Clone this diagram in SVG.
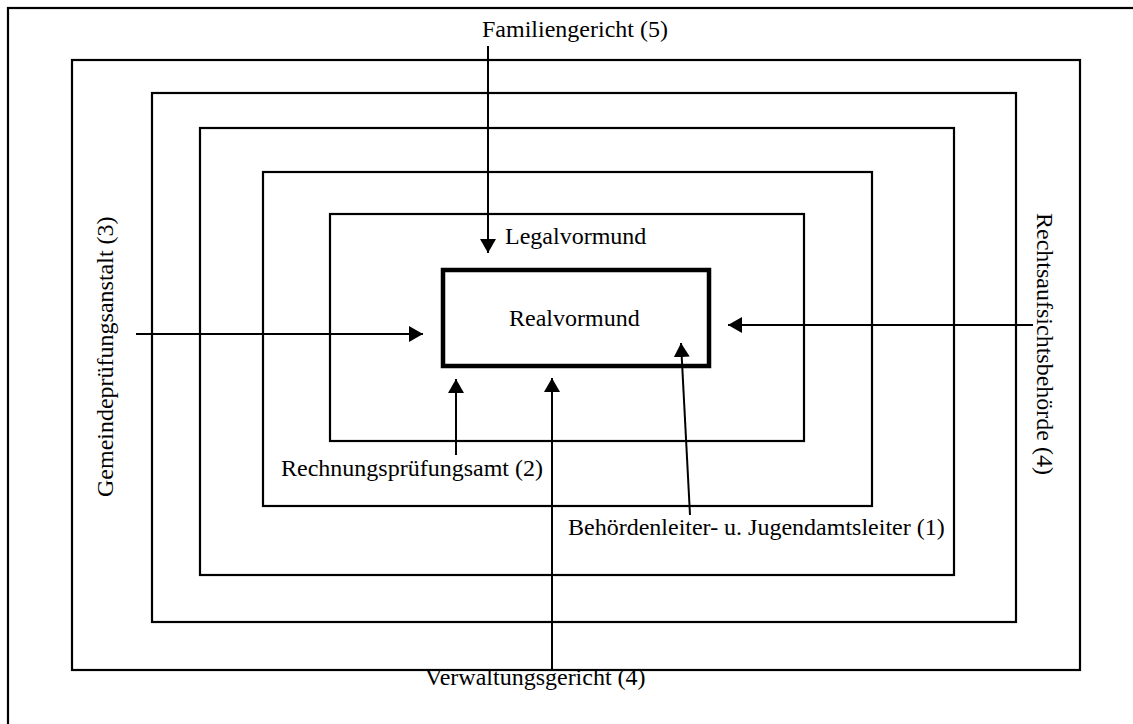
<svg xmlns="http://www.w3.org/2000/svg" width="1133" height="724" viewBox="0 0 1133 724">
<style>
.box{fill:none;stroke:#000;stroke-width:2.2}
.real{fill:none;stroke:#000;stroke-width:4.5}
.con{stroke:#000;stroke-width:2;fill:none}
text{font-family:"Liberation Serif","Times New Roman",serif;font-size:24px;fill:#000}
</style>
<defs>
<marker id="ah" markerUnits="userSpaceOnUse" markerWidth="15" markerHeight="16" refX="14" refY="8" orient="auto">
<path d="M0,0 L14,8 L0,16 z" fill="#000"/>
</marker>
</defs>
<rect width="1133" height="724" fill="#fff"/>
<g id="frame"><rect class="box" x="8" y="8" width="1200" height="800"/></g>
<g id="ring1"><rect class="box" x="72" y="60" width="1008" height="610"/></g>
<g id="ring2"><rect class="box" x="152" y="93" width="864" height="529"/></g>
<g id="ring3"><rect class="box" x="200" y="128" width="754" height="447"/></g>
<g id="ring4"><rect class="box" x="263" y="172" width="609" height="334"/></g>
<g id="legalvormund"><rect class="box" x="330" y="214" width="474" height="227"/><text x="505" y="244">Legalvormund</text></g>
<g id="realvormund"><rect class="real" x="443" y="270" width="266" height="96"/><text x="509" y="326">Realvormund</text></g>
<g id="familiengericht"><text x="482" y="37">Familiengericht (5)</text></g>
<g id="gemeindepruefungsanstalt"><text transform="translate(113,497) rotate(-90)">Gemeindeprüfungsanstalt (3)</text></g>
<g id="rechtsaufsichtsbehoerde"><text transform="translate(1037,213) rotate(90)">Rechtsaufsichtsbehörde (4)</text></g>
<g id="rechnungspruefungsamt"><text x="281" y="476">Rechnungsprüfungsamt (2)</text></g>
<g id="behoerdenleiter"><text x="568" y="535">Behördenleiter- u. Jugendamtsleiter (1)</text></g>
<g id="verwaltungsgericht"><text x="425" y="685">Verwaltungsgericht (4)</text></g>
<g id="connectors">
<line class="con" x1="488" y1="46" x2="488" y2="253" marker-end="url(#ah)"/>
<line class="con" x1="136" y1="334" x2="423" y2="334" marker-end="url(#ah)"/>
<line class="con" x1="1033" y1="325" x2="728" y2="325" marker-end="url(#ah)"/>
<line class="con" x1="456" y1="455" x2="456" y2="379" marker-end="url(#ah)"/>
<line class="con" x1="552" y1="670" x2="552" y2="378" marker-end="url(#ah)"/>
<line class="con" x1="690" y1="515" x2="681" y2="343" marker-end="url(#ah)"/>
</g>
</svg>
